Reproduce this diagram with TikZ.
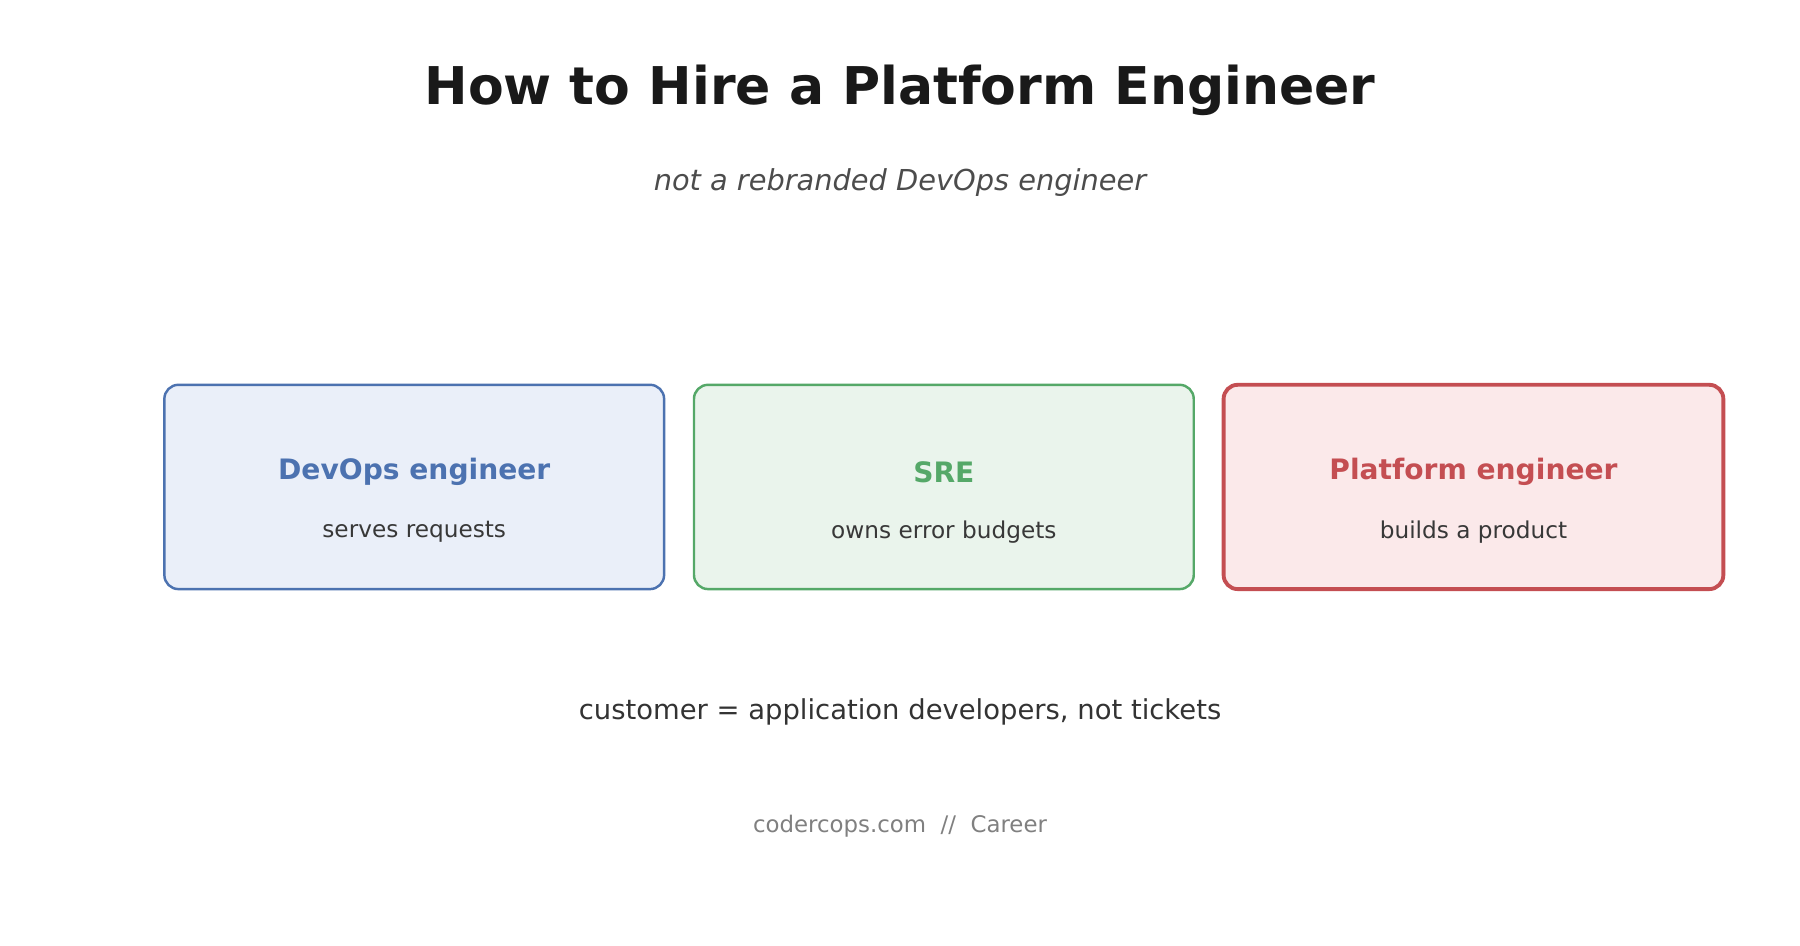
\documentclass[tikz,border=0pt]{standalone}
\usepackage{fontspec}
\setmainfont{DejaVu Sans}
\definecolor{devblue}{HTML}{4C72B0}
\definecolor{devfill}{HTML}{EAEFF9}
\definecolor{sregreen}{HTML}{55A868}
\definecolor{srefill}{HTML}{EAF4EC}
\definecolor{platred}{HTML}{C44E52}
\definecolor{platfill}{HTML}{FBE9EA}
\begin{document}
\begin{tikzpicture}[x=0.011538cm, y=-0.011538cm,
    role/.style={draw, rounded corners=4pt, inner sep=0pt, minimum width=433*0.11538mm, minimum height=177*0.11538mm},
    head/.style={font=\fontsize{8}{10}\selectfont\bfseries},
    sub/.style={font=\fontsize{6.6}{8}\selectfont, text=black!78}]
    % frame
    \useasboundingbox (0,0) rectangle (1560,819);

    % titles
    \node[font=\fontsize{14.8}{18}\selectfont\bfseries, text=black!90] (title) at (780,78) {How to Hire a Platform Engineer};
    \node[font=\fontsize{8.2}{10}\selectfont\itshape, text=black!70] (subtitle) at (780,158) {not a rebranded DevOps engineer};

    % the three roles
    \foreach \x/\col/\fil/\w/\id/\name/\desc in {359/devblue/devfill/0.7pt/devops/{DevOps engineer}/{serves requests},
        818/sregreen/srefill/0.7pt/sre/{SRE}/{owns error budgets},
        1277/platred/platfill/1.1pt/plat/{Platform engineer}/{builds a product}} {
        \node[role, draw=\col, fill=\fil, line width=\w] (\id) at (\x,422) {};
        \node[head, text=\col] (\id-head) at (\x,409) {\name};
        \node[sub] (\id-desc) at (\x,461) {\desc};
    }

    \node[font=\fontsize{7.8}{9}\selectfont, text=black!80] (customer) at (780,617) {customer = application developers, not tickets};
    \node[font=\fontsize{6.5}{8}\selectfont, text=black!50] (footer) at (780,716) {codercops.com\ \ //\ \ Career};
\end{tikzpicture}
\end{document}
